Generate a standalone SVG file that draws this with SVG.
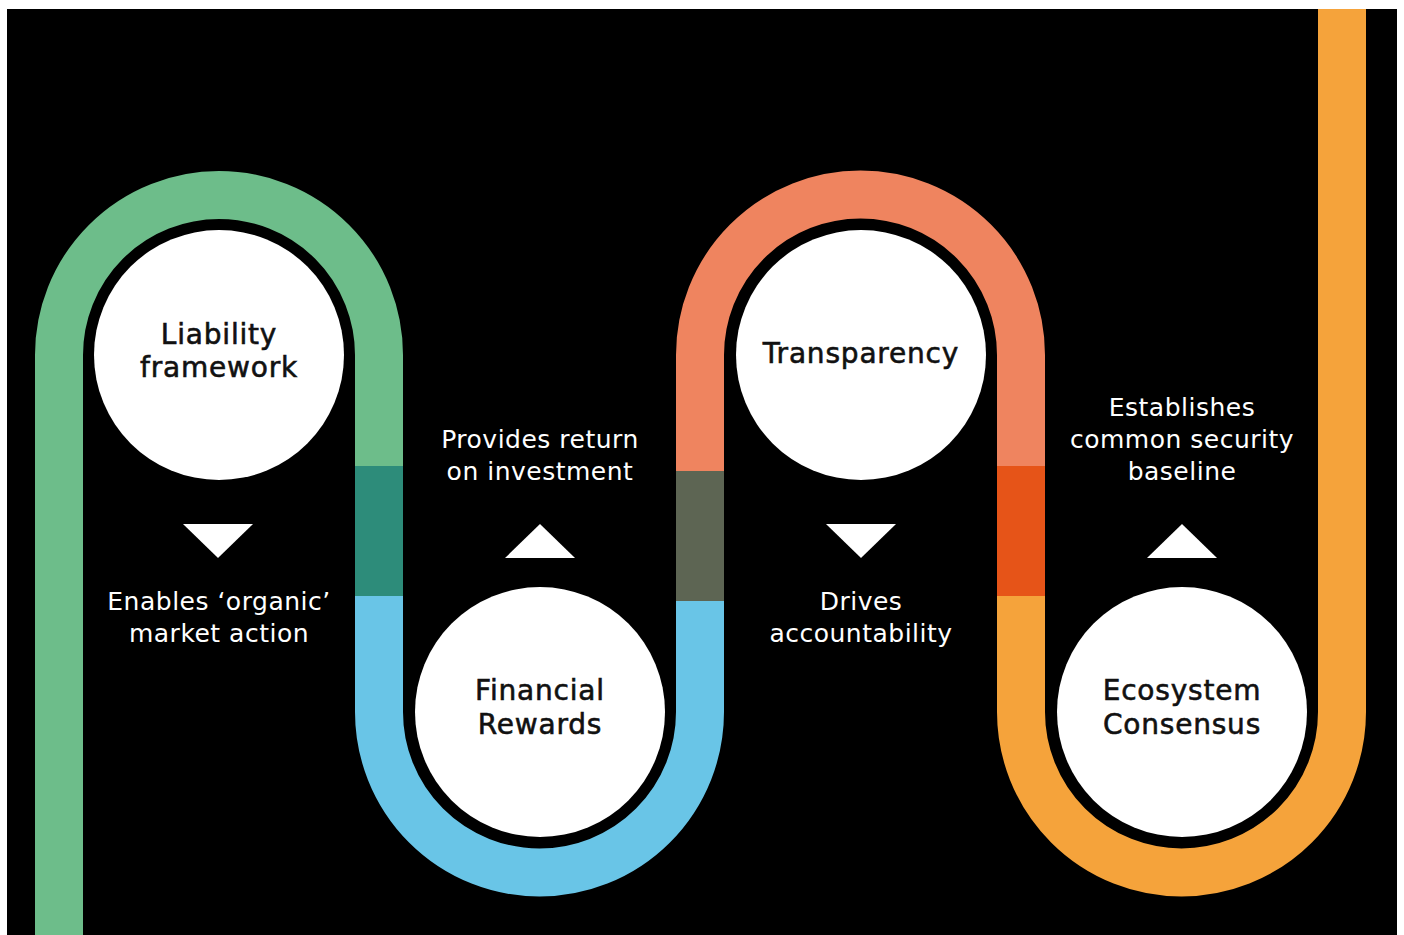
<svg xmlns="http://www.w3.org/2000/svg" width="1404" height="935" viewBox="0 0 1404 935">
  <style>
    .track { fill: none; stroke-width: 48; stroke-linecap: butt; }
    .node circle { fill: #ffffff; }
    .node text { font-family: "DejaVu Sans", "Liberation Sans", sans-serif; font-size: 28px; fill: #111111; stroke: #111111; stroke-width: 0.6px; text-anchor: middle; letter-spacing: 0.8px; }
    .label text { font-family: "DejaVu Sans", "Liberation Sans", sans-serif; font-size: 25px; fill: #ffffff; text-anchor: middle; letter-spacing: 0.5px; }
    .arrow { fill: #ffffff; }
  </style>

  <rect x="0" y="0" width="1404" height="935" fill="#ffffff"/>
  <rect x="7" y="9" width="1390" height="926" fill="#000000"/>

  <!-- winding track -->
  <g id="connectors">
    <path class="track" stroke="#6dbd8a" d="M59 935 L59 355 A160 160 0 0 1 379 355 L379 466"/>
    <path class="track" stroke="#2d8c7a" d="M379 466 L379 596"/>
    <path class="track" stroke="#69c5e7" d="M379 596 L379 712 A160.5 160.5 0 0 0 700 712 L700 601"/>
    <path class="track" stroke="#5d6553" d="M700 601 L700 471"/>
    <path class="track" stroke="#ef845f" d="M700 471 L700 355 A160.5 160.5 0 0 1 1021 355 L1021 466"/>
    <path class="track" stroke="#e65418" d="M1021 466 L1021 596"/>
    <path class="track" stroke="#f5a33b" d="M1021 596 L1021 712 A160.5 160.5 0 0 0 1342 712 L1342 9"/>

    <polygon class="arrow" points="183,524 253,524 218,558"/>
    <polygon class="arrow" points="505,558 575,558 540,524"/>
    <polygon class="arrow" points="826,524 896,524 861,558"/>
    <polygon class="arrow" points="1147,558 1217,558 1182,524"/>
  </g>

  <g id="node-liability" class="node">
    <circle cx="219" cy="355" r="125"/>
    <text x="219" y="344">Liability</text>
    <text x="219" y="377">framework</text>
  </g>

  <g id="node-financial" class="node">
    <circle cx="540" cy="712" r="125"/>
    <text x="540" y="700">Financial</text>
    <text x="540" y="734">Rewards</text>
  </g>

  <g id="node-transparency" class="node">
    <circle cx="861" cy="355" r="125"/>
    <text x="861" y="363">Transparency</text>
  </g>

  <g id="node-ecosystem" class="node">
    <circle cx="1182" cy="712" r="125"/>
    <text x="1182" y="700">Ecosystem</text>
    <text x="1182" y="734">Consensus</text>
  </g>

  <g id="label-organic" class="label">
    <text x="219" y="610">Enables ‘organic’</text>
    <text x="219" y="642">market action</text>
  </g>

  <g id="label-return" class="label">
    <text x="540" y="448">Provides return</text>
    <text x="540" y="480">on investment</text>
  </g>

  <g id="label-accountability" class="label">
    <text x="861" y="610">Drives</text>
    <text x="861" y="642">accountability</text>
  </g>

  <g id="label-baseline" class="label">
    <text x="1182" y="416">Establishes</text>
    <text x="1182" y="448">common security</text>
    <text x="1182" y="480">baseline</text>
  </g>
</svg>
